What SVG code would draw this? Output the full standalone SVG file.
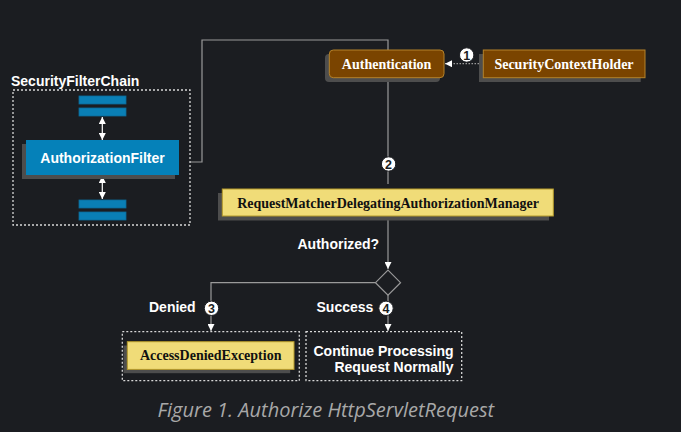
<svg xmlns="http://www.w3.org/2000/svg" width="681" height="432" viewBox="0 0 681 432">
<defs>
<style>
.sans{font-family:"Liberation Sans",Arial,sans-serif;font-weight:bold;fill:#ffffff;font-size:14px}
.serif{font-family:"Liberation Serif","Times New Roman",serif;font-weight:bold;font-size:14px;text-anchor:middle}
.shadow{fill:#4d4d4d}
.dotbox{fill:none;stroke:#d8d8d8;stroke-width:1.3;stroke-dasharray:2 2}
.conn{fill:none;stroke:#9a9a9a;stroke-width:1.2}
.num{fill:#ffffff;stroke:#1b1d21;stroke-width:1}
.numt{font-family:"Liberation Sans",Arial,sans-serif;font-weight:bold;font-size:12.5px;fill:#1b1d21;text-anchor:middle}
.bar{fill:#0a7fb5;stroke:#0a6a99;stroke-width:0.8}
</style>
<marker id="ah" viewBox="0 0 10 10" refX="10" refY="5" markerWidth="7" markerHeight="7" orient="auto-start-reverse" markerUnits="userSpaceOnUse">
<path d="M0,0 L10,5 L0,10 z" fill="#ffffff"/>
</marker>
</defs>
<rect width="681" height="432" fill="#1b1d21"/>

<g id="connectors">
<path class="conn" d="M190,162 H202 V40 H388 V184"/>
<line class="conn" x1="388" y1="216" x2="388" y2="269" marker-end="url(#ah)"/>
<path class="conn" d="M375.5,282.7 H211 V331" marker-end="url(#ah)"/>
<line class="conn" x1="388" y1="295" x2="388" y2="331" marker-end="url(#ah)"/>
<line x1="482" y1="63.7" x2="445" y2="63.7" stroke="#9a9a9a" stroke-width="1.3" stroke-dasharray="1.5 1.5" marker-end="url(#ah)"/>
<line x1="102.3" y1="117" x2="102.3" y2="140" stroke="#ffffff" stroke-width="1.2" marker-start="url(#ah)" marker-end="url(#ah)"/>
<line x1="102.3" y1="176" x2="102.3" y2="199" stroke="#ffffff" stroke-width="1.2" marker-start="url(#ah)" marker-end="url(#ah)"/>
</g>

<g id="SecurityFilterChain">
<text class="sans" x="11" y="85.5">SecurityFilterChain</text>
<rect class="dotbox" x="13" y="90" width="177" height="135"/>
<rect class="bar" x="79" y="96" width="47" height="8"/>
<rect class="bar" x="79" y="108" width="47" height="8"/>
<rect class="bar" x="79" y="200" width="47" height="8"/>
<rect class="bar" x="79" y="212" width="47" height="8"/>
</g>

<g id="AuthorizationFilter">
<rect class="shadow" x="22" y="144" width="153" height="35"/>
<rect x="26" y="140" width="153" height="35" fill="#0581b9"/>
<text class="sans" x="102.5" y="163" text-anchor="middle" font-size="15">AuthorizationFilter</text>
</g>

<g id="Authentication">
<rect class="shadow" x="325" y="54" width="115" height="28" rx="4"/>
<rect x="329.3" y="50" width="114.7" height="27.7" rx="4" fill="#7a4400" stroke="#b5822a" stroke-width="1"/>
<text class="serif" x="386.6" y="68.5" fill="#ffffff">Authentication</text>
</g>

<g id="SecurityContextHolder">
<rect class="shadow" x="479" y="54" width="161.7" height="28"/>
<rect x="483.3" y="50" width="161.7" height="27.7" fill="#7a4400" stroke="#b5822a" stroke-width="1"/>
<text class="serif" x="564" y="68.5" fill="#ffffff">SecurityContextHolder</text>
</g>

<g id="RequestMatcherDelegatingAuthorizationManager">
<rect class="shadow" x="218" y="193" width="331" height="27.5"/>
<rect x="222.3" y="189" width="331" height="27" fill="#f0dc78" stroke="#b59a2a" stroke-width="1"/>
<text class="serif" x="388" y="207.5" fill="#111111">RequestMatcherDelegatingAuthorizationManager</text>
</g>

<g id="decision">
<path d="M388,270.2 L400.5,282.7 L388,295.2 L375.5,282.7 z" fill="#1b1d21" stroke="#9a9a9a" stroke-width="1.2"/>
<text class="sans" x="297.5" y="249">Authorized?</text>
</g>

<g id="labels">
<text class="sans" x="149" y="312">Denied</text>
<text class="sans" x="316.5" y="312">Success</text>
</g>

<g id="AccessDeniedException">
<rect class="dotbox" x="122.3" y="331.7" width="177" height="49"/>
<rect class="shadow" x="123.5" y="345.5" width="166.7" height="27.7"/>
<rect x="127.3" y="341.7" width="166.7" height="27.7" fill="#f0dc78" stroke="#b59a2a" stroke-width="1"/>
<text class="serif" x="210.7" y="360" fill="#111111">AccessDeniedException</text>
</g>

<g id="ContinueProcessing">
<rect class="dotbox" x="306" y="331.7" width="155.7" height="49"/>
<text class="sans" x="453.5" y="355.5" text-anchor="end">Continue Processing</text>
<text class="sans" x="453.5" y="371.5" text-anchor="end">Request Normally</text>
</g>

<g id="numbers">
<circle class="num" cx="466.7" cy="55" r="7.2"/><text class="numt" x="466.7" y="59.5">1</text>
<circle class="num" cx="388.6" cy="164" r="7.2"/><text class="numt" x="388.6" y="168.5">2</text>
<circle class="num" cx="211.5" cy="308.3" r="7.2"/><text class="numt" x="211.5" y="312.8">3</text>
<circle class="num" cx="386" cy="308.3" r="7.2"/><text class="numt" x="386" y="312.8">4</text>
</g>

<text x="157.5" y="416.5" font-family="'Open Sans','Noto Sans',sans-serif" font-style="italic" font-size="20" fill="#a8a8a8">Figure 1. Authorize HttpServletRequest</text>
</svg>
